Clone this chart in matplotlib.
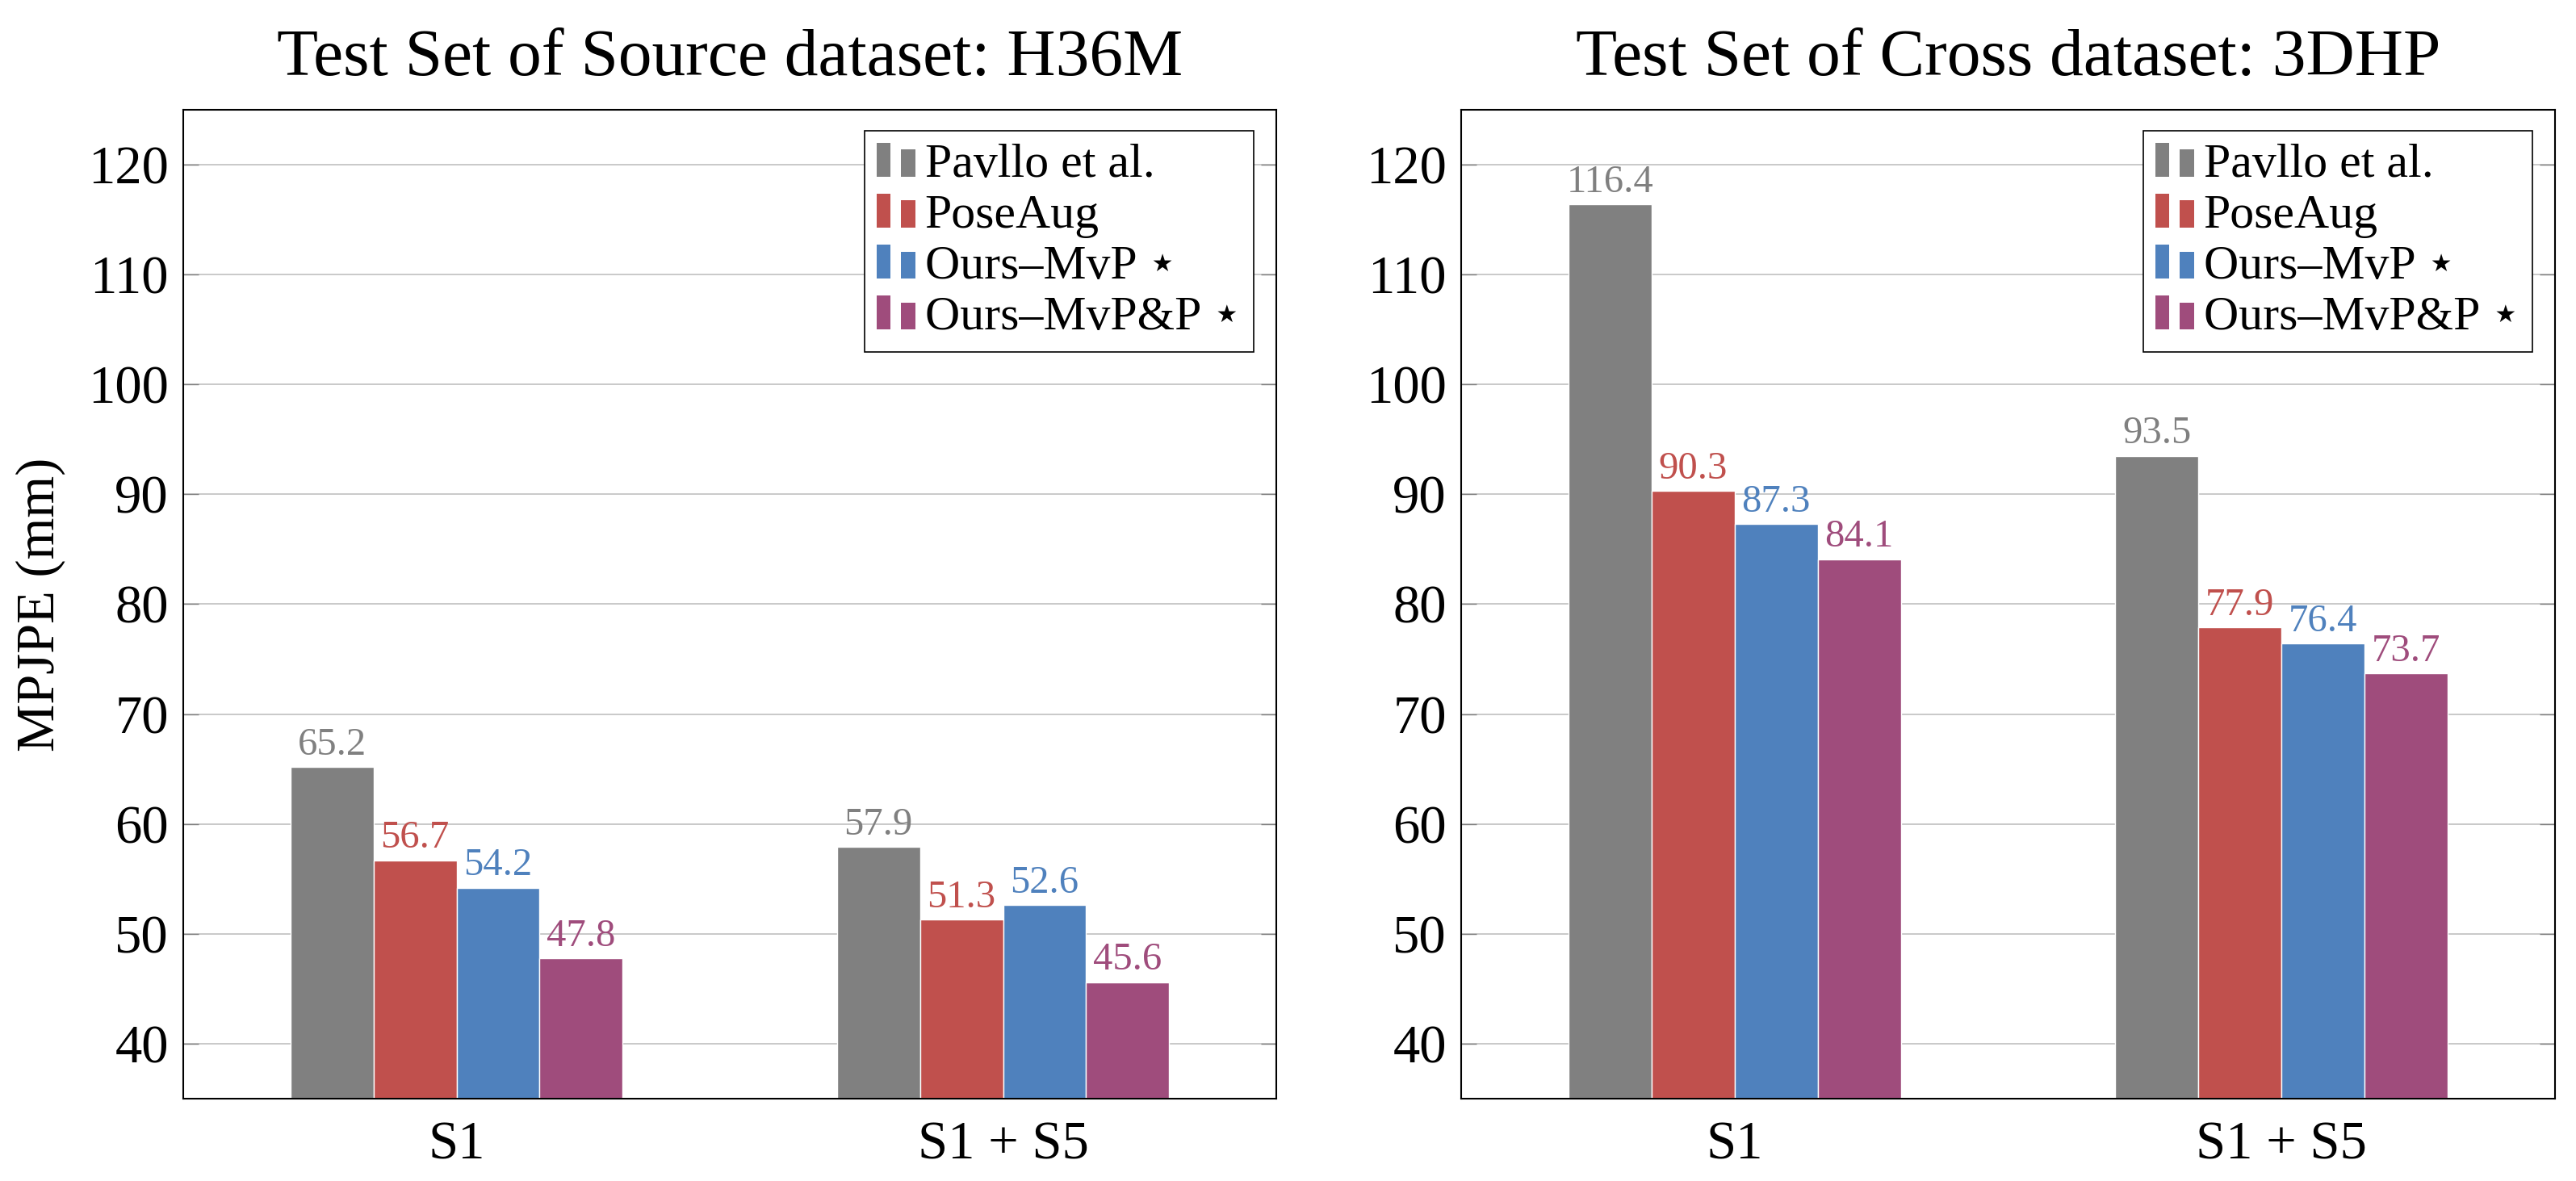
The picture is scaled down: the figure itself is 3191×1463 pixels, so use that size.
import matplotlib
matplotlib.use("Agg")
import numpy as np
import matplotlib.pyplot as plt
from matplotlib.patches import Rectangle
from matplotlib.legend_handler import HandlerBase

plt.rcParams['font.family'] = ['Liberation Serif', 'DejaVu Sans']

# data
categories = ['S1', 'S1 + S5']
methods = ['Pavllo et al.', 'PoseAug', 'Ours–MvP ⋆', 'Ours–MvP&P ⋆']
colors = ['#808080', '#c0504d', '#4f81bd', '#9f4c7c']

h36m_pavllo = [65.2, 57.9]
h36m_poseaug = [56.7, 51.3]
h36m_mvp = [54.2, 52.6]
h36m_mvpp = [47.8, 45.6]

dhp_pavllo = [116.4, 93.5]
dhp_poseaug = [90.3, 77.9]
dhp_mvp = [87.3, 76.4]
dhp_mvpp = [84.1, 73.7]

yticks = [40, 50, 60, 70, 80, 90, 100, 110, 120]

titles = ['Test Set of Source dataset: H36M', 'Test Set of Cross dataset: 3DHP']


class TwoBars(HandlerBase):
    # pgfplots style legend image: two small bars
    def create_artists(self, legend, orig_handle, xdescent, ydescent,
                       width, height, fontsize, trans):
        c = orig_handle.get_facecolor()
        bw = width * 0.36
        r1 = Rectangle((-xdescent, -ydescent), bw, height * 1.0,
                       facecolor=c, edgecolor='none', transform=trans)
        r2 = Rectangle((-xdescent + width - bw, -ydescent), bw, height * 0.8,
                       facecolor=c, edgecolor='none', transform=trans)
        return [r1, r2]


def draw_panel(ax, series, title, ylabel=None):
    x = np.arange(len(categories))
    w = 0.152
    offsets = [-1.5, -0.5, 0.5, 1.5]
    handles = []
    for vals, off, col, name in zip(series, offsets, colors, methods):
        b = ax.bar(x + off * w, vals, w, color=col, edgecolor='white',
                   linewidth=1.0, label=name, zorder=2)
        handles.append(b[0])
        for xi, v in zip(x + off * w, vals):
            ax.annotate(f'{v:.1f}', (xi, v), xytext=(0, 11),
                        textcoords='offset points', ha='center',
                        va='baseline', color=col, fontsize=35)

    ax.set_xlim(-0.5, 1.5)
    ax.set_ylim(35, 125)
    ax.set_xticks(x)
    ax.set_xticklabels(categories)
    ax.set_yticks(yticks)
    ax.tick_params(axis='x', length=0, labelsize=48, pad=20)
    ax.tick_params(axis='y', direction='in', left=True, right=True,
                   length=14, width=1.0, color='#808080', labelsize=48, pad=13)
    ax.yaxis.grid(True, color='#c0c0c0', linewidth=1.2, zorder=0)
    ax.set_axisbelow(True)
    for s in ax.spines.values():
        s.set_linewidth(1.5)
        s.set_color('black')
    ax.set_title(title, fontsize=60, pad=31)
    if ylabel:
        ax.set_ylabel(ylabel, fontsize=48, labelpad=20)

    leg = ax.legend(handles=handles, labels=methods, loc='upper right',
                    bbox_to_anchor=(1 - 28 / 1354, 1 - 26 / 1225),
                    borderaxespad=0, fontsize=43, frameon=True, fancybox=False,
                    framealpha=1, edgecolor='black', handler_map={Rectangle: TwoBars()},
                    handlelength=0.8, handleheight=0.7, handletextpad=0.2,
                    labelspacing=0.14, borderpad=0.25)
    leg.get_frame().set_linewidth(1.2)


fig = plt.figure(figsize=(31.91, 14.63), dpi=100)
ax1 = fig.add_axes([227 / 3191, 102 / 1463, 1354 / 3191, 1225 / 1463])
ax2 = fig.add_axes([1810 / 3191, 102 / 1463, 1355 / 3191, 1225 / 1463])

draw_panel(ax1, [h36m_pavllo, h36m_poseaug, h36m_mvp, h36m_mvpp], titles[0], 'MPJPE (mm)')
draw_panel(ax2, [dhp_pavllo, dhp_poseaug, dhp_mvp, dhp_mvpp], titles[1])

fig.savefig('out.png', dpi=100)
